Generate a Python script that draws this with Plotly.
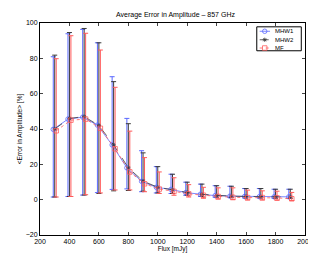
import plotly.graph_objects as go

flux = [300, 400, 500, 600, 700, 800, 900, 1000, 1100, 1200, 1300, 1400, 1500, 1600, 1700, 1800, 1900]

mhw1_mean = [39.8, 45.6, 46.7, 42.2, 31.0, 18.0, 10.4, 7.0, 5.8, 4.0, 3.1, 2.3, 2.0, 1.8, 1.7, 1.6, 1.6]
mhw1_upper = [80.9, 93.9, 96.4, 88.8, 69.6, 46.0, 27.7, 18.7, 14.4, 9.9, 8.8, 7.9, 7.6, 6.3, 6.3, 5.9, 5.9]
mhw1_lower = [1.5, 1.8, 2.6, 4.0, 5.8, 6.1, 4.5, 3.8, 3.5, 2.5, 1.8, 1.4, 1.2, 1.0, 1.0, 0.8, 0.8]

mhw2_mean = [40.0, 46.0, 47.0, 42.0, 31.0, 18.0, 10.5, 7.0, 5.6, 4.0, 3.0, 2.3, 2.0, 1.8, 1.7, 1.6, 1.5]
mhw2_upper = [81.8, 94.6, 96.9, 88.8, 66.8, 43.0, 26.5, 18.7, 14.4, 9.9, 8.8, 7.9, 7.6, 6.3, 6.3, 5.9, 5.9]
mhw2_lower = [1.5, 1.8, 2.6, 3.5, 5.0, 5.2, 4.8, 3.8, 3.5, 2.5, 1.8, 1.4, 1.2, 1.0, 1.0, 0.8, 0.8]

mf_mean = [39.0, 45.0, 45.6, 40.4, 28.8, 15.7, 9.0, 6.0, 4.7, 3.3, 2.5, 1.8, 1.3, 1.2, 1.2, 1.0, 0.5]
mf_upper = [79.8, 92.8, 94.2, 84.7, 63.6, 38.8, 23.8, 15.7, 12.4, 8.5, 7.0, 6.7, 6.7, 5.4, 5.0, 4.8, 4.1]
mf_lower = [1.5, 1.8, 2.8, 3.8, 5.5, 5.5, 4.5, 3.5, 2.5, 1.5, 0.8, 0.3, 0.0, -0.2, -0.2, -0.3, -0.5]

series_names = ["MHW1", "MHW2", "MF"]

x_ticks = [200, 400, 600, 800, 1000, 1200, 1400, 1600, 1800, 2000]
y_ticks = [-20, 0, 20, 40, 60, 80, 100]

offset = 10
series = [
    (series_names[0], -offset, mhw1_mean, mhw1_upper, mhw1_lower, "#5a68ff", "solid", "circle-open", 4.5),
    (series_names[1], 0, mhw2_mean, mhw2_upper, mhw2_lower, "#3a3a3a", "dash", "asterisk-open", 3.5),
    (series_names[2], offset, mf_mean, mf_upper, mf_lower, "#ff5a5a", "dot", "square-open", 4.5),
]

fig = go.Figure()
for name, off, mean, up, lo, col, dash, sym, ms in series:
    xs = [f + off for f in flux]
    fig.add_trace(go.Scatter(
        x=xs, y=mean, mode="markers", showlegend=False, hoverinfo="skip",
        marker=dict(size=1, color="rgba(0,0,0,0)"),
        error_y=dict(type="data", symmetric=False,
                     array=[u - m for u, m in zip(up, mean)],
                     arrayminus=[m - l for m, l in zip(mean, lo)],
                     color=col, thickness=1, width=2.5),
    ))
for name, off, mean, up, lo, col, dash, sym, ms in series:
    xs = [f + off for f in flux]
    fig.add_trace(go.Scatter(
        x=xs, y=mean, name=name, mode="lines+markers", showlegend=False,
        line=dict(color=col, width=0.8, dash=dash),
        marker=dict(symbol=sym, size=ms, color=col, line=dict(width=0.8, color=col)),
    ))

# manual legend (on an invisible unit overlay axis)
leg_x0, leg_x1 = 0.818, 0.986
leg_y0, leg_y1 = 0.869, 0.982
entry_y = [0.961, 0.921, 0.882]
fig.add_shape(type="rect", xref="paper", yref="paper", x0=leg_x0, x1=leg_x1,
              y0=leg_y0, y1=leg_y1, line=dict(color="black", width=1),
              fillcolor="white", layer="below")
for (name, off, mean, up, lo, col, dash, sym, ms), ey in zip(series, entry_y):
    fig.add_trace(go.Scatter(
        x=[0.829, 0.848, 0.868], y=[ey, ey, ey], xaxis="x2", yaxis="y2",
        mode="lines", showlegend=False, hoverinfo="skip",
        line=dict(color=col, width=0.8, dash=dash),
    ))
    fig.add_trace(go.Scatter(
        x=[0.848], y=[ey], xaxis="x2", yaxis="y2",
        mode="markers", showlegend=False, hoverinfo="skip",
        marker=dict(symbol=sym, size=ms, color=col, line=dict(width=0.8, color=col)),
    ))
    fig.add_annotation(x=0.878, y=ey, xref="paper", yref="paper", text=name,
                       showarrow=False, xanchor="left", yanchor="middle",
                       font=dict(size=6))

fig.update_layout(
    width=316, height=255,
    margin=dict(l=25, r=11, t=14, b=19),
    paper_bgcolor="white", plot_bgcolor="white",
    font=dict(family="Liberation Sans, Arial, sans-serif", size=7, color="black"),
    title=dict(text="Average Error in Amplitude – 857 GHz", x=0.53, xanchor="center",
               y=0.985, yanchor="top", font=dict(size=7)),
    xaxis=dict(range=[200, 2000], tickvals=x_ticks, ticks="inside", ticklen=3,
               showline=True, linecolor="black", linewidth=1, mirror="ticks",
               showgrid=False, zeroline=False,
               title=dict(text="Flux [mJy]", standoff=2, font=dict(size=6.5))),
    yaxis=dict(range=[-20, 100], tickvals=y_ticks, ticks="inside", ticklen=3,
               showline=True, linecolor="black", linewidth=1, mirror="ticks",
               showgrid=False, zeroline=False,
               title=dict(text="<Error in Amplitude> [%]", standoff=2, font=dict(size=6.5))),
    xaxis2=dict(range=[0, 1], overlaying="x", visible=False, fixedrange=True),
    yaxis2=dict(range=[0, 1], overlaying="y", visible=False, fixedrange=True),
    showlegend=False,
)

fig.write_html("out.html")
